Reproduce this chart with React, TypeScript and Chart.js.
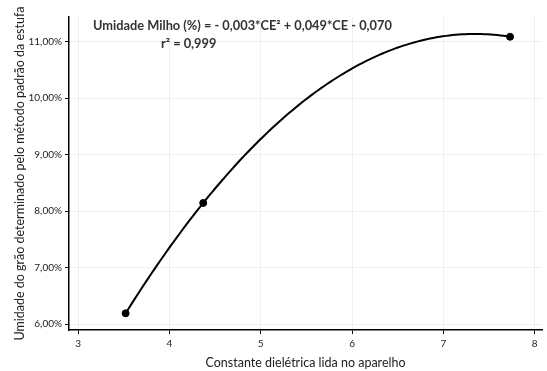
import React, { useEffect, useRef } from "react";
import { Chart, registerables } from "chart.js";

Chart.register(...registerables);

const constanteDieletrica = [3.52, 4.37, 7.73];
const umidadeMilho = [6.19, 8.145, 11.09];
const xTicks = [3, 4, 5, 6, 7, 8];
const yTicks = [6, 7, 8, 9, 10, 11];
const equationLine1 = "Umidade Milho (%) = - 0,003*CE² + 0,049*CE - 0,070";
const equationLine2 = "r² = 0,999";
const xTitle = "Constante dielétrica lida no aparelho";
const yTitle = "Umidade do grão determinado pelo método padrão da estufa";

const FONT = "Lato, 'Noto Sans', sans-serif";

// least-squares quadratic fit (trendline) from the data points
function quadFit(xs: number[], ys: number[]) {
  const n = xs.length;
  let s0 = n, s1 = 0, s2 = 0, s3 = 0, s4 = 0, t0 = 0, t1 = 0, t2 = 0;
  for (let i = 0; i < n; i++) {
    const x = xs[i], y = ys[i];
    s1 += x; s2 += x * x; s3 += x * x * x; s4 += x * x * x * x;
    t0 += y; t1 += x * y; t2 += x * x * y;
  }
  const M = [
    [s4, s3, s2, t2],
    [s3, s2, s1, t1],
    [s2, s1, s0, t0],
  ];
  for (let i = 0; i < 3; i++) {
    for (let k = i + 1; k < 3; k++) {
      const f = M[k][i] / M[i][i];
      for (let j = i; j < 4; j++) M[k][j] -= f * M[i][j];
    }
  }
  const r = [0, 0, 0];
  for (let i = 2; i >= 0; i--) {
    let s = M[i][3];
    for (let j = i + 1; j < 3; j++) s -= M[i][j] * r[j];
    r[i] = s / M[i][i];
  }
  return r; // a, b, c
}

const trendPlugin = {
  id: "trend",
  beforeDatasetsDraw(chart: any) {
    const [a, b, c] = quadFit(constanteDieletrica, umidadeMilho);
    const xs = chart.scales.x, ys = chart.scales.y;
    const x0 = constanteDieletrica[0];
    const x1 = constanteDieletrica[constanteDieletrica.length - 1];
    const ctx = chart.ctx;
    ctx.save();
    ctx.beginPath();
    const steps = 120;
    for (let i = 0; i <= steps; i++) {
      const x = x0 + ((x1 - x0) * i) / steps;
      const y = a * x * x + b * x + c;
      const px = xs.getPixelForValue(x), py = ys.getPixelForValue(y);
      if (i === 0) ctx.moveTo(px, py); else ctx.lineTo(px, py);
    }
    ctx.strokeStyle = "#000";
    ctx.lineWidth = 2;
    ctx.lineJoin = "round";
    ctx.stroke();
    ctx.restore();
  },
  afterDraw(chart: any) {
    const ctx = chart.ctx;
    ctx.save();
    ctx.fillStyle = "#333";
    ctx.font = `bold 12.8px ${FONT}`;
    ctx.textBaseline = "middle";
    ctx.textAlign = "left";
    ctx.fillText(equationLine1, 93, 26);
    ctx.fillText(equationLine2, 161, 44);
    ctx.restore();
  },
};

export default function App() {
  const ref = useRef<HTMLCanvasElement | null>(null);
  useEffect(() => {
    document.body.style.margin = "0";
    const chart = new Chart(ref.current!, {
      type: "scatter",
      data: {
        datasets: [
          {
            data: constanteDieletrica.map((x, i) => ({ x, y: umidadeMilho[i] })),
            backgroundColor: "#000",
            borderColor: "#000",
            pointRadius: 3.5,
          },
        ],
      },
      options: {
        animation: false,
        responsive: false,
        layout: { padding: { top: 17, right: 2, left: 0, bottom: 0 } },
        plugins: { legend: { display: false }, tooltip: { enabled: false } },
        scales: {
          x: {
            type: "linear",
            min: 2.9,
            max: 8.08,
            afterBuildTicks: (s: any) => { s.ticks = xTicks.map((v) => ({ value: v })); },
            afterFit: (s: any) => { s.height = 41; },
            grid: { color: "#efefef", tickColor: "#000", tickLength: 4 },
            border: { color: "#000", width: 1.5 },
            ticks: { color: "#222", font: { family: FONT, size: 10 }, padding: 4, maxRotation: 0 },
            title: { display: true, text: xTitle, color: "#222", font: { family: FONT, size: 12.5 }, padding: { top: 4, bottom: 1 } },
          },
          y: {
            type: "linear",
            min: 5.894,
            max: 11.44,
            afterBuildTicks: (s: any) => { s.ticks = yTicks.map((v) => ({ value: v })); },
            afterFit: (s: any) => { s.width = 69; },
            grid: { color: "#efefef", tickColor: "#000", tickLength: 4 },
            border: { color: "#000", width: 1.5 },
            ticks: {
              color: "#222",
              font: { family: FONT, size: 10 },
              padding: 3,
              callback: (v: any) => Number(v).toFixed(2).replace(".", ",") + "%",
            },
            title: { display: true, text: yTitle, color: "#222", font: { family: FONT, size: 12.5 }, padding: { top: 12, bottom: 0 } },
          },
        },
      },
      plugins: [trendPlugin],
    } as any);
    return () => chart.destroy();
  }, []);
  return (
    <div style={{ position: "absolute", left: 0, top: 0, width: 547, height: 371 }}>
      <canvas ref={ref} width={547} height={371} />
    </div>
  );
}
